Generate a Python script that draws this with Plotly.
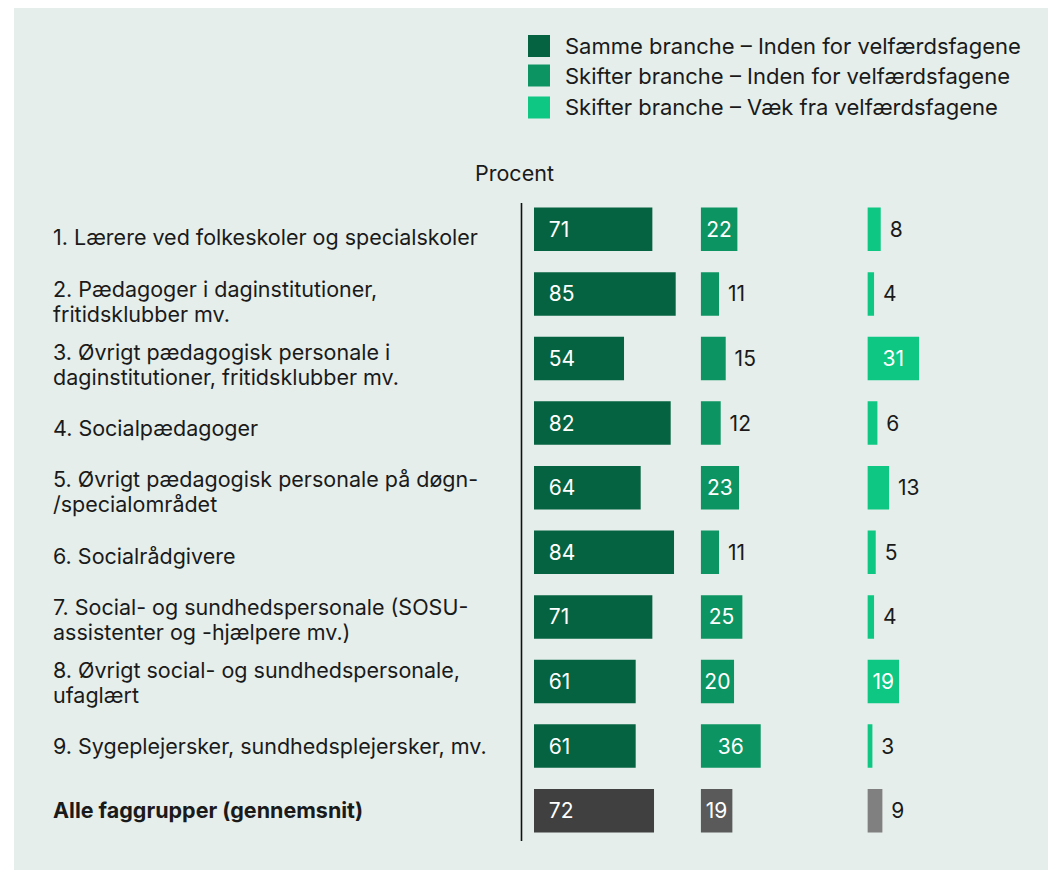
import plotly.graph_objects as go

categories = [
    "1. Lærere ved folkeskoler og specialskoler",
    "2. Pædagoger i daginstitutioner,<br>fritidsklubber mv.",
    "3. Øvrigt pædagogisk personale i<br>daginstitutioner, fritidsklubber mv.",
    "4. Socialpædagoger",
    "5. Øvrigt pædagogisk personale på døgn-<br>/specialområdet",
    "6. Socialrådgivere",
    "7. Social- og sundhedspersonale (SOSU-<br>assistenter og -hjælpere mv.)",
    "8. Øvrigt social- og sundhedspersonale,<br>ufaglært",
    "9. Sygeplejersker, sundhedsplejersker, mv.",
    "<b>Alle faggrupper (gennemsnit)</b>",
]
samme_inden = [71, 85, 54, 82, 64, 84, 71, 61, 61, 72]
skifter_inden = [22, 11, 15, 12, 23, 11, 25, 20, 36, 19]
skifter_vaek = [8, 4, 31, 6, 13, 5, 4, 19, 3, 9]
series_names = [
    "Samme branche – Inden for velfærdsfagene",
    "Skifter branche – Inden for velfærdsfagene",
    "Skifter branche – Væk fra velfærdsfagene",
]
green_colors = ["#066341", "#0c9462", "#0dc782"]
grey_colors = ["#404040", "#5a5a5a", "#808080"]
axis_title = "Procent"

FONT = "Inter"
FS = 21.5      # labels
FS_LEG = 22    # legend
FS_NUM = 21    # bar values
LINE_H = 25    # line spacing of two-line labels
BG = "#e5eeeb"
W, H = 1048, 862
OFF = 8  # body margin
# plot area in screen pixels
L_s, R_s, T_s, B_s = 521, 1034, 197, 843
PXU = 1.667  # pixels per percent unit
c1_start = 534
c1_end = c1_start + 100 * PXU
c2_end = c1_end + 100 * PXU
label_top, label_step = 237.5, 63.6


def xp(sx):
    return (sx - L_s) / (R_s - L_s)


def yp(sy):
    return (B_s - sy) / (B_s - T_s)


n = len(categories)
idx = list(range(n))
fig = go.Figure()

all_vals = [samme_inden, skifter_inden, skifter_vaek]
for k, vals in enumerate(all_vals):
    colors = [green_colors[k]] * (n - 1) + [grey_colors[k]]
    if k == 0:
        text = ["\u00a0\u00a0" + str(v) for v in vals]
        pos = ["inside"] * n
        anchor = "start"
    else:
        text = [str(v) if v >= 19 else "\u00a0" + str(v) for v in vals]
        pos = ["inside" if v >= 19 else "outside" for v in vals]
        anchor = "middle"
    fig.add_trace(go.Bar(
        x=vals, y=idx, orientation="h", name=series_names[k],
        marker=dict(color=colors, line=dict(width=0)),
        text=text, textposition=pos, insidetextanchor=anchor,
        insidetextfont=dict(color="white", size=FS_NUM, family=FONT),
        outsidetextfont=dict(color="#1a1a1a", size=FS_NUM, family=FONT),
        cliponaxis=False,
        xaxis="x" if k == 0 else "x%d" % (k + 1), yaxis="y",
        showlegend=False, hoverinfo="skip",
    ))

d1 = xp(c1_end)
d2 = xp(c2_end)
fig.update_layout(
    width=W, height=H,
    margin=dict(l=L_s - OFF, r=W - (R_s - OFF), t=T_s - OFF, b=H - (B_s - OFF), pad=0),
    paper_bgcolor="white", plot_bgcolor="rgba(0,0,0,0)",
    bargap=0.327,
    font=dict(family=FONT, size=FS, color="#1a1a1a"),
    xaxis=dict(domain=[0, d1], range=[-(c1_start - L_s) / PXU, 100], visible=False, fixedrange=True),
    xaxis2=dict(domain=[d1, d2], range=[0, 100], visible=False, anchor="y", fixedrange=True),
    xaxis3=dict(domain=[d2, 1], range=[0, 100], visible=False, anchor="y", fixedrange=True),
    yaxis=dict(range=[n - 0.5, -0.5], showticklabels=False, showgrid=False, zeroline=False,
               showline=False, ticks="", fixedrange=True),
)

annotations = []
for i, c in enumerate(categories):
    lines = c.split("<br>")
    cy = label_top + i * label_step
    for j, ln in enumerate(lines):
        ly = cy + (j - (len(lines) - 1) / 2) * LINE_H
        annotations.append(dict(
            x=xp(51), xref="paper", y=yp(ly), yref="paper",
            text=ln, showarrow=False, xanchor="left", yanchor="middle", align="left",
            font=dict(family=FONT, size=FS, color="#1a1a1a"),
        ))
annotations.append(dict(
    x=xp(514), xref="paper", y=yp(173), yref="paper", text=axis_title,
    showarrow=False, xanchor="center", yanchor="middle",
    font=dict(family=FONT, size=FS, color="#1a1a1a"),
))

shapes = [
    dict(type="rect", xref="paper", yref="paper", layer="below",
         x0=xp(14), x1=xp(1080), y0=yp(890), y1=yp(7),
         fillcolor=BG, line=dict(width=0)),
    dict(type="line", xref="paper", yref="paper",
         x0=xp(521.5), x1=xp(521.5), y0=yp(841), y1=yp(203),
         line=dict(color="#111111", width=1.6)),
]
leg_y = [46, 75.5, 107.5]
for k in range(3):
    shapes.append(dict(
        type="rect", xref="paper", yref="paper",
        x0=xp(528), x1=xp(550), y0=yp(leg_y[k] + 11), y1=yp(leg_y[k] - 11),
        fillcolor=green_colors[k], line=dict(width=0),
    ))
    annotations.append(dict(
        x=xp(563), xref="paper", y=yp(leg_y[k]), yref="paper", text=series_names[k],
        showarrow=False, xanchor="left", yanchor="middle",
        font=dict(family=FONT, size=FS_LEG, color="#1a1a1a"),
    ))

fig.update_layout(annotations=annotations, shapes=shapes)
fig.write_html("out.html")
